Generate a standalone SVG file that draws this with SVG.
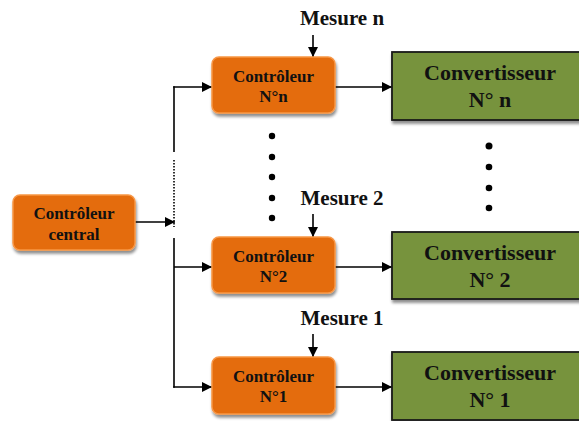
<svg xmlns="http://www.w3.org/2000/svg" width="579" height="421" viewBox="0 0 579 421">
<defs>
<marker id="ah" viewBox="0 0 10 10" refX="10" refY="5" markerWidth="11" markerHeight="10" markerUnits="userSpaceOnUse" orient="auto">
<path d="M0,0 L10,5 L0,10 Z" fill="#000"/>
</marker>
<filter id="sh" x="-20%" y="-20%" width="140%" height="150%">
<feGaussianBlur in="SourceAlpha" stdDeviation="1.5"/>
<feOffset dx="1" dy="2.5" result="b"/>
<feComponentTransfer><feFuncA type="linear" slope="0.45"/></feComponentTransfer>
<feMerge><feMergeNode/><feMergeNode in="SourceGraphic"/></feMerge>
</filter>
</defs>
<style>
.ctl{fill:#E46C0A;stroke:#F79646;stroke-width:1.5;filter:url(#sh)}
.cnv{fill:#77933C;stroke:#1a1a1a;stroke-width:1.8;filter:url(#sh)}
text{font-family:"Liberation Serif","Times New Roman",serif;font-weight:bold;fill:#111;text-anchor:middle}
.t1{font-size:17px}
.t2{font-size:22px}
.t3{font-size:21px}
.ln{stroke:#000;stroke-width:1.6;fill:none}
.ar{stroke:#000;stroke-width:1.6;fill:none;marker-end:url(#ah)}
.dt{fill:#000}
</style>
<g id="connectors">
<line class="ar" x1="135" y1="222" x2="175" y2="222"/>
<line class="ln" x1="174" y1="86.2" x2="174" y2="152"/>
<line class="ln" x1="174" y1="160" x2="174" y2="227" stroke-dasharray="1.5,1.5"/>
<line class="ln" x1="174" y1="238" x2="174" y2="387.8"/>
<line class="ar" x1="173.2" y1="87" x2="212" y2="87"/>
<line class="ar" x1="174" y1="267" x2="212" y2="267"/>
<line class="ar" x1="173.2" y1="387" x2="212" y2="387"/>
<line class="ar" x1="335" y1="87" x2="392" y2="87"/>
<line class="ar" x1="335" y1="267" x2="392" y2="267"/>
<line class="ar" x1="335" y1="387" x2="392" y2="387"/>
<line class="ar" x1="313" y1="35" x2="313" y2="57"/>
<line class="ar" x1="313" y1="214" x2="313" y2="237"/>
<line class="ar" x1="313" y1="334" x2="313" y2="357"/>
</g>
<g id="dots-controllers">
<circle class="dt" cx="272" cy="136" r="3.2"/>
<circle class="dt" cx="272" cy="157" r="3.2"/>
<circle class="dt" cx="272" cy="177" r="3.2"/>
<circle class="dt" cx="272" cy="198" r="3.2"/>
<circle class="dt" cx="272" cy="218" r="3.2"/>
</g>
<g id="dots-converters">
<circle class="dt" cx="489" cy="146" r="3.5"/>
<circle class="dt" cx="489" cy="167" r="3.3"/>
<circle class="dt" cx="489" cy="188" r="3.3"/>
<circle class="dt" cx="489" cy="208" r="3.3"/>
</g>
<g id="central">
<rect class="ctl" x="13" y="195" width="122" height="55" rx="7"/>
<text class="t1" x="74" y="219">Contrôleur</text>
<text class="t1" x="74" y="240">central</text>
</g>
<g id="mesure-n"><text class="t3" x="342" y="25">Mesure n</text></g>
<g id="mesure-2"><text class="t3" x="342" y="205">Mesure 2</text></g>
<g id="mesure-1"><text class="t3" x="342" y="325">Mesure 1</text></g>
<g id="ctl-n">
<rect class="ctl" x="212" y="57" width="123" height="56" rx="7"/>
<text class="t1" x="273.5" y="82">Contrôleur</text>
<text class="t1" x="273.5" y="102">N°n</text>
</g>
<g id="ctl-2">
<rect class="ctl" x="212" y="237" width="123" height="56" rx="7"/>
<text class="t1" x="273.5" y="262">Contrôleur</text>
<text class="t1" x="273.5" y="282">N°2</text>
</g>
<g id="ctl-1">
<rect class="ctl" x="212" y="357" width="123" height="57" rx="7"/>
<text class="t1" x="273.5" y="382">Contrôleur</text>
<text class="t1" x="273.5" y="402">N°1</text>
</g>
<g id="conv-n">
<rect class="cnv" x="392" y="52" width="195" height="68"/>
<text class="t2" x="490" y="80">Convertisseur</text>
<text class="t2" x="490" y="107">N° n</text>
</g>
<g id="conv-2">
<rect class="cnv" x="392" y="232" width="195" height="67"/>
<text class="t2" x="490" y="260">Convertisseur</text>
<text class="t2" x="490" y="287">N° 2</text>
</g>
<g id="conv-1">
<rect class="cnv" x="392" y="352" width="195" height="68"/>
<text class="t2" x="490" y="380">Convertisseur</text>
<text class="t2" x="490" y="407">N° 1</text>
</g>
</svg>
